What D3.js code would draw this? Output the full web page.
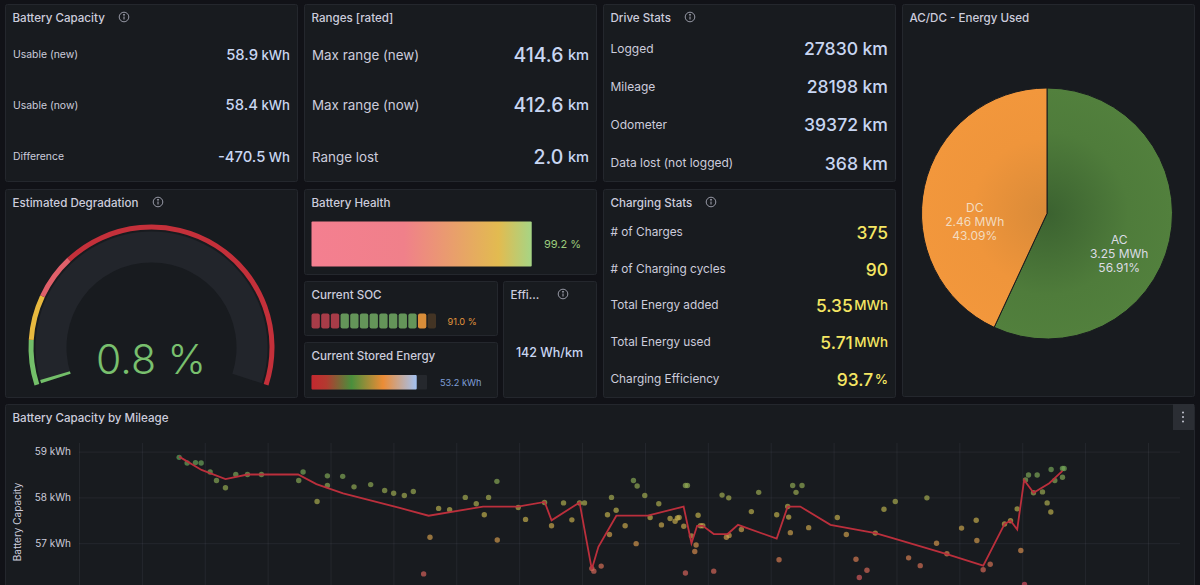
<!DOCTYPE html>
<html>
<head>
<meta charset="utf-8">
<script src="https://cdn.jsdelivr.net/npm/d3@7"></script>
<style>
  html, body { margin: 0; padding: 0; background: #111217; overflow: hidden; }
  svg { display: block; font-family: Inter, "Noto Sans", sans-serif; }
  .panel { fill: #181b1f; stroke: #24272d; stroke-width: 1; }
  .title { fill: #ccccdc; font-size: 11.6px; font-weight: 500; }
  .label { fill: #ccccdc; }
  .axis text { fill: #ccccdc; font-size: 10px; font-family: Inter, "Noto Sans", sans-serif; }
  .axis line { stroke: rgba(204, 204, 220, 0.07); }
  .axis .domain { display: none; }
</style>
</head>
<body>
<svg width="1200" height="585"></svg>
<script>
// stat tables
const batteryLabels = ["Usable (new)", "Usable (now)", "Difference"];
const batteryValues = ["58.9", "58.4", "-470.5"];
const batteryUnits = ["kWh", "kWh", "Wh"];

const rangeLabels = ["Max range (new)", "Max range (now)", "Range lost"];
const rangeValues = ["414.6", "412.6", "2.0"];
const rangeUnits = ["km", "km", "km"];

const driveLabels = ["Logged", "Mileage", "Odometer", "Data lost (not logged)"];
const driveValues = ["27830", "28198", "39372", "368"];
const driveUnits = ["km", "km", "km", "km"];

const chargeLabels = ["# of Charges", "# of Charging cycles", "Total Energy added", "Total Energy used", "Charging Efficiency"];
const chargeValues = ["375", "90", "5.35", "5.71", "93.7"];
const chargeUnits = ["", "", "MWh", "MWh", "%"];

// gauges
const degradation = 0.8;
const degradationThresholds = [10, 20, 30];
const health = 99.2;
const soc = 91.0;
const socCells = 13;
const socThresholds = [20, 80];
const storedEnergy = 53.2;
const usableNow = 58.4;
const efficiency = 142;

// pie
const pieNames = ["AC", "DC"];
const pieEnergy = [3.25, 2.46];
const pieEnergyLabels = ["3.25 MWh", "2.46 MWh"];
const piePercents = ["56.91%", "43.09%"];

// capacity by mileage: the fitted line (km, kWh)
const lineKm = [11185, 11897, 12660, 13360, 14970, 15550, 16400, 18200, 19120, 20850, 21960, 22810, 23030, 23920, 24310, 24520, 25090, 26090, 27230, 27480, 27660, 27840, 28190, 28630, 28960, 30190, 30540, 30940, 31900, 33330, 33880, 35600, 36760, 37440, 37630, 37840, 38060, 38360, 38860, 39280];
const lineKwh = [58.89, 58.6, 58.4, 58.5, 58.5, 58.29, 58.09, 57.77, 57.6, 57.8, 57.8, 57.9, 57.5, 57.89, 56.43, 56.92, 57.6, 57.6, 57.8, 57.0, 57.38, 57.38, 57.2, 57.2, 57.4, 57.1, 57.8, 57.8, 57.4, 57.22, 57.11, 56.76, 56.51, 57.42, 57.49, 57.3, 58.38, 58.1, 58.31, 58.58];

// capacity by mileage: single charges (km, kWh)
const pointKm = [11186, 11440, 11705, 11885, 12171, 12373, 12658, 12987, 13358, 13803, 14989, 15127, 15572, 15900, 15900, 16387, 16747, 17277, 17722, 18008, 18347, 18633, 19438, 19788, 20286, 20635, 20890, 21027, 21292, 19163, 21303, 18962, 21970, 22203, 22807, 23029, 23411, 23676, 23919, 24078, 24311, 24375, 24608, 24809, 24873, 24936, 25084, 25370, 25635, 25752, 25720, 25995, 26165, 26440, 26525, 26800, 26959, 27033, 27087, 27235, 27288, 27351, 27288, 27479, 27691, 27627, 27585, 27765, 27839, 28188, 28453, 28665, 28591, 28676, 29068, 29385, 29618, 30191, 30265, 30572, 30540, 30625, 30699, 30805, 30996, 32119, 32405, 31208, 32712, 32818, 33061, 33326, 33602, 33962, 34386, 34756, 34968, 35275, 35604, 36070, 36536, 36557, 36758, 36981, 37436, 37627, 37839, 37955, 38104, 38199, 38475, 38358, 38644, 38792, 38909, 38919, 39036, 39280, 39333, 39280, 38072];
const pointKwh = [58.875, 58.75, 58.76, 58.75, 58.555, 58.37, 58.21, 58.5, 58.5, 58.5, 58.37, 58.555, 57.91, 58.47, 58.26, 58.46, 58.23, 58.28, 58.15, 58.09, 58.04, 58.13, 57.76, 57.73, 58.0, 57.86, 57.62, 58.0, 58.35, 57.13, 57.07, 56.33, 57.78, 57.52, 57.89, 57.38, 57.88, 57.51, 57.88, 57.88, 56.45, 56.39, 56.5, 57.62, 57.19, 58.0, 57.72, 57.38, 58.37, 58.25, 56.99, 58.04, 57.56, 57.86, 57.4, 57.54, 57.48, 57.55, 57.56, 57.37, 58.26, 58.26, 56.35, 57.16, 57.61, 56.96, 56.82, 57.38, 57.38, 56.39, 58.05, 57.99, 57.13, 57.17, 57.3, 57.69, 58.11, 57.62, 56.64, 57.57, 57.8, 57.23, 58.26, 58.11, 58.26, 57.56, 57.19, 57.34, 56.65, 56.25, 56.41, 57.22, 57.74, 57.91, 56.68, 56.51, 57.99, 57.0, 56.77, 57.33, 57.5, 57.06, 56.42, 56.54, 57.42, 57.49, 57.75, 56.84, 58.38, 58.49, 58.49, 58.1, 58.12, 57.88, 57.68, 58.61, 58.37, 58.63, 58.63, 58.44, 56.1];

const kwhTicks = [56, 57, 58, 59];
const kmTicks = d3.range(8000, 44000, 2000);

const svg = d3.select("svg");
const defs = svg.append("defs");

// Panel frame with its title and optional info icon
const panel = (x, y, w, h, title, infoX) => {
  svg.append("rect").attr("class", "panel")
    .attr("x", x + 0.5).attr("y", y + 0.5)
    .attr("width", w).attr("height", h).attr("rx", 2);
  svg.append("text").attr("class", "title")
    .attr("x", x + 7.5).attr("y", y + 17.5).text(title);
  if (infoX) {
    const icon = svg.append("g")
      .attr("transform", `translate(${infoX},${y + 13})`)
      .attr("stroke", "#a5a7b4").attr("fill", "none");
    icon.append("circle").attr("r", 4.8).attr("stroke-width", 0.9);
    icon.append("line").attr("y1", -0.5).attr("y2", 2.5).attr("stroke-width", 1);
    icon.append("circle").attr("cy", -2.2).attr("r", 0.5).attr("fill", "#a5a7b4");
  }
};

// Rows of label on the left, value + unit on the right
const statRows = (o) => {
  o.labels.forEach((label, i) => {
    svg.append("text").attr("class", "label")
      .attr("x", o.labelX).attr("y", o.rowY[i])
      .attr("dominant-baseline", "central")
      .attr("font-size", o.labelSize).text(label);
    const t = svg.append("text")
      .attr("x", o.valueX).attr("y", o.rowY[i])
      .attr("dominant-baseline", "central")
      .attr("text-anchor", "end")
      .attr("fill", o.color).attr("font-weight", 500)
      .attr("font-size", o.valueSize);
    t.append("tspan").text(o.values[i]);
    if (o.units[i]) {
      t.append("tspan").attr("dx", o.unitGap)
        .attr("font-size", o.unitSize).text(o.units[i]);
    }
  });
};

panel(5, 4, 292, 177, "Battery Capacity", 124);
panel(304, 4, 292, 177, "Ranges [rated]");
panel(603, 4, 292, 177, "Drive Stats", 690);
panel(902, 4, 292, 392, "AC/DC - Energy Used");
panel(5, 189, 292, 208, "Estimated Degradation", 158);
panel(304, 189, 292, 85, "Battery Health");
panel(304, 281, 193, 54, "Current SOC");
panel(304, 342, 193, 55, "Current Stored Energy");
panel(503, 281, 93, 116, "Effi...", 563);
panel(603, 189, 292, 208, "Charging Stats", 711);
panel(5, 404, 1189, 200, "Battery Capacity by Mileage");

statRows({ labels: batteryLabels, values: batteryValues, units: batteryUnits, rowY: [54.5, 105, 156.5],
  labelX: 13, valueX: 290, labelSize: 10.4, valueSize: 14.8, unitSize: 13.2, unitGap: 3.5, color: "#c8d6f2" });
statRows({ labels: rangeLabels, values: rangeValues, units: rangeUnits, rowY: [54.5, 105, 156.5],
  labelX: 312, valueX: 589, labelSize: 13.4, valueSize: 19.4, unitSize: 14.6, unitGap: 4.5, color: "#c8d6f2" });
statRows({ labels: driveLabels, values: driveValues, units: driveUnits, rowY: [48, 86, 124, 162.5],
  labelX: 610.5, valueX: 888, labelSize: 12, valueSize: 17.6, unitSize: 17.6, unitGap: 4.5, color: "#c8d6f2" });
statRows({ labels: chargeLabels, values: chargeValues, units: chargeUnits, rowY: [232, 269, 305, 342, 379],
  labelX: 610.5, valueX: 888, labelSize: 11.8, valueSize: 17.4, unitSize: 13.4, unitGap: 1.5, color: "#f5e663" });

// ---- Estimated Degradation gauge ----
const gaugeG = svg.append("g").attr("transform", "translate(151.5,347.5)");
const gaugeAngle = d3.scaleLinear().domain([0, 100])
  .range([-108 * Math.PI / 180, 108 * Math.PI / 180]);
const bandColors = ["#73bf69", "#e8b93f", "#e0606a", "#c4303a"];
const bandEdges = [0, ...degradationThresholds, 100];

gaugeG.append("path").attr("fill", "#22252b")
  .attr("d", d3.arc()({ innerRadius: 85, outerRadius: 116, startAngle: gaugeAngle(0), endAngle: gaugeAngle(100) }));
gaugeG.append("path").attr("fill", "#73bf69")
  .attr("d", d3.arc()({ innerRadius: 85, outerRadius: 116, startAngle: gaugeAngle(0), endAngle: gaugeAngle(degradation) }));
gaugeG.selectAll(".band").data(bandColors).join("path")
  .attr("class", "band").attr("fill", (d) => d)
  .attr("d", (d, i) => d3.arc()({ innerRadius: 118, outerRadius: 123, startAngle: gaugeAngle(bandEdges[i]), endAngle: gaugeAngle(bandEdges[i + 1]) }));
svg.append("text")
  .attr("x", 151).attr("y", 373.5).attr("text-anchor", "middle")
  .attr("fill", "#79c06e").attr("font-size", 41).attr("font-weight", 300)
  .text(`${degradation} %`);

// ---- Battery Health bar ----
const healthScale = d3.scaleLinear().domain([0, 100]).range([0, 222]);
const healthGrad = defs.append("linearGradient").attr("id", "healthGrad");
[[0, "#f47f90"], [0.42, "#f0808a"], [0.85, "#e2bb50"], [1, "#a6d585"]].forEach(([o, c]) => {
  healthGrad.append("stop").attr("offset", o).attr("stop-color", c);
});
svg.append("rect").attr("x", 311.5).attr("y", 221.5)
  .attr("width", healthScale(health)).attr("height", 45).attr("rx", 1)
  .attr("fill", "url(#healthGrad)");
svg.append("text").attr("x", 544).attr("y", 244).attr("dominant-baseline", "central")
  .attr("fill", "#9ccc7c").attr("font-size", 11).text(`${health} %`);

// ---- Current SOC cells ----
const cellScale = d3.scaleBand().domain(d3.range(socCells)).range([311.5, 436]).paddingInner(0.14);
const cellColor = d3.scaleThreshold().domain(socThresholds).range(["#b8404c", "#6da35f", "#ee9a3c"]);
svg.selectAll(".cell").data(d3.range(socCells)).join("rect")
  .attr("class", "cell")
  .attr("x", (d) => cellScale(d)).attr("y", 313.5)
  .attr("width", cellScale.bandwidth()).attr("height", 15).attr("rx", 2)
  .attr("fill", (d) => cellColor((d * 100) / socCells))
  .attr("opacity", (d) => ((d + 1) * 100) / socCells <= soc + 100 / socCells ? 0.9 : 0.2);
svg.append("text").attr("x", 447.5).attr("y", 321).attr("dominant-baseline", "central")
  .attr("fill", "#e0953c").attr("font-size", 9.2).text(`${soc.toFixed(1)} %`);

// ---- Current Stored Energy bar ----
const storedScale = d3.scaleLinear().domain([0, usableNow]).range([0, 115.5]);
const storedGrad = defs.append("linearGradient").attr("id", "storedGrad");
[[0, "#c4282f"], [0.14, "#b33a30"], [0.38, "#4a8f3c"], [0.68, "#ec8c36"], [1, "#a3c2f2"]].forEach(([o, c]) => {
  storedGrad.append("stop").attr("offset", o).attr("stop-color", c);
});
svg.append("rect").attr("x", 311.5).attr("y", 375)
  .attr("width", storedScale(usableNow)).attr("height", 14.5).attr("rx", 1)
  .attr("fill", "#25282d");
svg.append("rect").attr("x", 311.5).attr("y", 375)
  .attr("width", storedScale(storedEnergy)).attr("height", 14.5).attr("rx", 1)
  .attr("fill", "url(#storedGrad)");
svg.append("text").attr("x", 440).attr("y", 382.5).attr("dominant-baseline", "central")
  .attr("fill", "#7f9fd8").attr("font-size", 9.2).text(`${storedEnergy} kWh`);

// ---- Efficiency ----
svg.append("text").attr("x", 549.5).attr("y", 352).attr("text-anchor", "middle")
  .attr("dominant-baseline", "central").attr("fill", "#c8d6f2")
  .attr("font-size", 12.5).attr("font-weight", 500).text(`${efficiency} Wh/km`);

// ---- AC/DC pie ----
const pieG = svg.append("g").attr("transform", "translate(1047,213.5)");
const pieRadius = 125.5;
const acGrad = defs.append("radialGradient").attr("id", "acGrad")
  .attr("gradientUnits", "userSpaceOnUse").attr("cx", 0).attr("cy", 0).attr("r", pieRadius);
acGrad.append("stop").attr("offset", 0).attr("stop-color", "#3b6230");
acGrad.append("stop").attr("offset", 0.65).attr("stop-color", "#4f7c3b");
acGrad.append("stop").attr("offset", 1).attr("stop-color", "#52803d");
const dcGrad = defs.append("radialGradient").attr("id", "dcGrad")
  .attr("gradientUnits", "userSpaceOnUse").attr("cx", 0).attr("cy", 0).attr("r", pieRadius);
dcGrad.append("stop").attr("offset", 0).attr("stop-color", "#d98a38");
dcGrad.append("stop").attr("offset", 0.6).attr("stop-color", "#ef953b");
dcGrad.append("stop").attr("offset", 1).attr("stop-color", "#f2973c");

const arcs = d3.pie().sort(null)(pieEnergy);
const arc = d3.arc().innerRadius(0).outerRadius(pieRadius);
const labelArc = d3.arc().innerRadius(74).outerRadius(74);
pieG.selectAll("path").data(arcs).join("path")
  .attr("d", arc)
  .attr("fill", (d, i) => (i === 0 ? "url(#acGrad)" : "url(#dcGrad)"))
  .attr("stroke", "#181b1f").attr("stroke-width", 1);
arcs.forEach((d, i) => {
  const [cx, cy] = labelArc.centroid(d);
  [pieNames[i], pieEnergyLabels[i], piePercents[i]].forEach((line, j) => {
    pieG.append("text")
      .attr("x", cx).attr("y", cy + 24 + (j - 1) * 14)
      .attr("text-anchor", "middle").attr("dominant-baseline", "central")
      .attr("fill", i === 0 ? "#dcdce6" : "#f3dcc0")
      .attr("font-size", 12).text(line);
  });
});

// ---- Battery Capacity by Mileage ----
const xScale = d3.scaleLinear().domain([8000, 42000]).range([79, 1148]);
const yScale = d3.scaleLinear().domain([56, 59]).range([589, 451.6]);
const gridTop = 443;
const gridBottom = 610;

svg.append("g").attr("class", "axis")
  .attr("transform", `translate(0,${gridBottom})`)
  .call(d3.axisBottom(xScale).tickValues(kmTicks.filter((d) => d <= 42000)).tickSize(-(gridBottom - gridTop)).tickFormat(""));
svg.append("g").attr("class", "axis")
  .attr("transform", "translate(79,0)")
  .call(d3.axisLeft(yScale).tickValues(kwhTicks).tickSize(-1101).tickPadding(8).tickFormat((d) => `${d} kWh`))
  .call((g) => g.selectAll("text").attr("x", -8));

svg.append("text").attr("class", "label")
  .attr("transform", "translate(21,522) rotate(-90)")
  .attr("text-anchor", "middle").attr("font-size", 10).text("Battery Capacity");

const pointColor = d3.scaleLinear()
  .domain([56.3, 56.9, 57.6, 58.6])
  .range(["#d8605c", "#d8944c", "#c4b24c", "#78a858"]);
svg.append("g").selectAll("circle").data(pointKm).join("circle")
  .attr("cx", (d) => xScale(d))
  .attr("cy", (d, i) => yScale(pointKwh[i]))
  .attr("r", 2.7)
  .attr("fill", (d, i) => pointColor(pointKwh[i]))
  .attr("fill-opacity", 0.68);

const line = d3.line().x((d) => xScale(d)).y((d, i) => yScale(lineKwh[i]));
svg.append("path").datum(lineKm)
  .attr("d", line).attr("fill", "none")
  .attr("stroke", "#bb2f3c").attr("stroke-width", 1.8);

// panel menu button
svg.append("rect").attr("x", 1173).attr("y", 404).attr("width", 21).attr("height", 26).attr("fill", "#2b2e34");
svg.append("g").selectAll("circle").data([-1, 0, 1]).join("circle")
  .attr("cx", 1183).attr("cy", (d) => 417 + d * 4.5).attr("r", 1).attr("fill", "#c4c6d2");
</script>
</body>
</html>
